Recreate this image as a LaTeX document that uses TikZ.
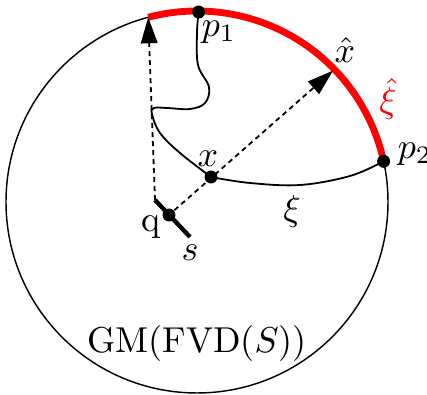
\documentclass[tikz,border=0pt]{standalone}
\usetikzlibrary{arrows.meta}
\newdimen\unitpx
\unitpx=0.2778pt
\begin{document}
\begin{tikzpicture}[x=\unitpx,y=\unitpx,
  dot/.style={circle,fill=black,inner sep=0pt,minimum size=3.6pt},
  curveline/.style={line width=0.5pt},
  dasharrow/.style={line width=0.5pt,dash pattern=on 1.4pt off 1.1pt,-{Triangle[length=7.2pt,width=4.6pt]}},
  lbl/.style={inner sep=0pt}]
\useasboundingbox (0,0) rectangle (427,395);
\coordinate (c) at (197,193);
\draw[line width=0.4pt] (c) circle[radius=191];
\draw[red,line width=1.9pt] ([shift={(104.8:191)}]c) arc[start angle=104.8,end angle=12.3,radius=191];
\coordinate (top) at ([shift={(104.8:191)}]c);
\coordinate (xh) at ([shift={(44:189)}]c);
\node[dot] (p1) at ([shift={(89.5:190)}]c) {};
\node[dot] (p2) at ([shift={(12.3:191)}]c) {};
\node[dot] (x) at (211,218) {};
\coordinate (s1) at (155,195);
\coordinate (s2) at (190,158);
\draw[line width=1.2pt] (s1) -- (s2);
\node[dot] (q) at (169,180) {};
\draw[dasharrow] (s1) -- (top);
\draw[dasharrow] (q) -- (xh);
\draw[curveline] plot[smooth,tension=0.6] coordinates {(p1) (197,362) (198,330) (209,308) (205,292) (190,286) (167,287) (154,287) (152,281) (160,262) (180,242) (211,218)};
\draw[curveline] plot[smooth,tension=0.6] coordinates {(x) (250,212) (300,210) (350,219) (p2)};
\node[lbl] (lp1) at (219,363) {$p_1$};
\node[lbl] (lxh) at (345,345) {$\hat{x}$};
\node[lbl,text=red] (lxi) at (388,296) {$\hat{\xi}$};
\node[lbl] (lp2) at (415,241) {$p_2$};
\node[lbl] (lx) at (208,236) {$x$};
\node[lbl] (lxi2) at (292,183) {$\xi$};
\node[lbl] (lq) at (151,168) {q};
\node[lbl] (ls) at (190,142) {$s$};
\node[lbl] (gm) at (197,51) {GM(FVD($S$))};
\end{tikzpicture}
\end{document}
